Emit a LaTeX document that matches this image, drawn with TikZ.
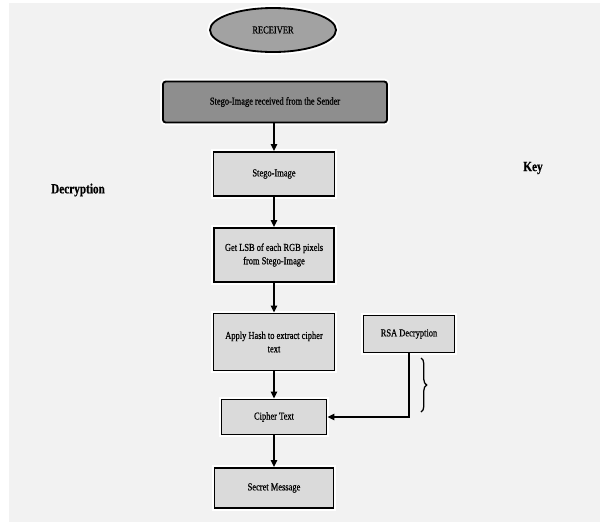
\documentclass[tikz,border=0pt]{standalone}
\usepackage{fontspec}
\setmainfont{Liberation Serif}[FakeStretch=0.8, FakeBold=0.6]
\usetikzlibrary{arrows.meta,shapes.geometric,decorations.pathreplacing}

\definecolor{pagegray}{HTML}{F2F2F2}
\definecolor{boxgray}{HTML}{DADADA}
\definecolor{headgray}{HTML}{8E8E8E}
\definecolor{ovalgray}{HTML}{A2A2A2}

\tikzset{
    halo/.style={preaction={draw=white, line width=4pt}},
    stepbox/.style={draw, line width=1.3pt, fill=boxgray, halo, align=center,
        inner sep=2pt, font=\fontsize{7.5}{9.5}\selectfont},
    flow/.style={-{Triangle[length=5pt,width=4.5pt]}, line width=1.2pt},
}

\begin{document}
\begin{tikzpicture}[x=0.025cm, y=-0.025cm]
    % Page
    \useasboundingbox (0,0) rectangle (600,522);
    \fill[white] (0,0) rectangle (600,522);
    \fill[pagegray] (9,3) rectangle (600,522);

    % Column x-position
    \def\xc{274}

    % Start and header
    \node[ellipse, draw, line width=1.3pt, fill=ovalgray, halo,
        minimum width=3.15cm, minimum height=1.1cm,
        font=\fontsize{7.5}{9}\selectfont] (receiver) at (273,30) {RECEIVER};
    \node[draw, line width=1.3pt, fill=headgray, rounded corners=2pt, halo,
        minimum width=5.6cm, minimum height=1.025cm,
        font=\fontsize{7.5}{9}\selectfont] (sender) at (275,102) {Stego-Image received from the Sender};

    % Steps
    \node[stepbox, minimum width=3.025cm, minimum height=1.1cm] (stego) at (\xc,174) {Stego-Image};
    \node[stepbox, minimum width=3cm, minimum height=1.35cm] (lsb) at (\xc,255)
        {Get LSB of each RGB pixels\\from Stego-Image};
    \node[stepbox, minimum width=3.025cm, minimum height=1.425cm] (hash) at (\xc,342)
        {Apply Hash to extract cipher\\text};
    \node[stepbox, minimum width=2.625cm, minimum height=0.875cm] (cipher) at (\xc,417) {Cipher Text};
    \node[stepbox, minimum width=2.975cm, minimum height=1cm] (secret) at (\xc,488) {Secret Message};
    \node[stepbox, minimum width=2.275cm, minimum height=0.925cm] (rsa) at (409,334) {RSA Decryption};

    % Side labels
    \node[font=\fontsize{10}{12}\selectfont\bfseries] (declabel) at (78,190) {Decryption};
    \node[font=\fontsize{10}{12}\selectfont\bfseries] (keylabel) at (533,168) {Key};

    % Arrows
    \draw[flow] (sender.south -| stego.north) -- (stego.north);
    \draw[flow] (stego) -- (lsb);
    \draw[flow] (lsb) -- (hash);
    \draw[flow] (hash) -- (cipher);
    \draw[flow] (cipher) -- (secret);
    \draw[flow] (rsa.south) |- (cipher.east);

    % Brace
    \coordinate (bracetop) at (421,358);
    \coordinate (bracebot) at (421,412);
    \draw[decorate, decoration={brace, amplitude=4pt}, line width=0.9pt] (bracetop) -- (bracebot);
\end{tikzpicture}
\end{document}
